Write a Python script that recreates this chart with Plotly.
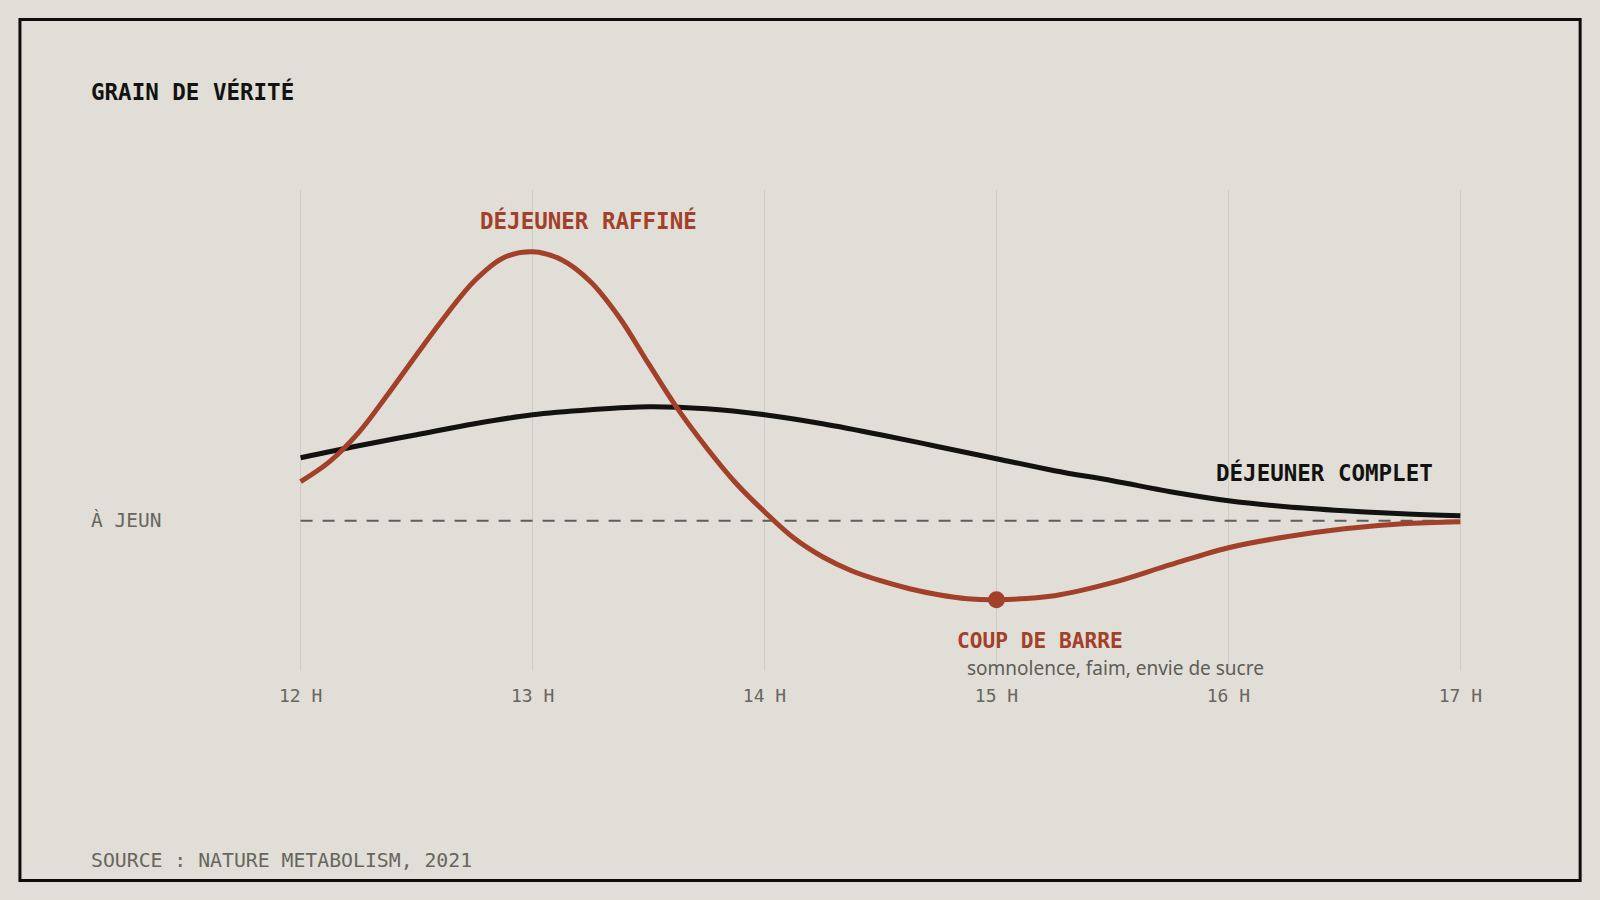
import plotly.graph_objects as go

# ---- data ----
hours_ticks = [12, 13, 14, 15, 16, 17]
tick_labels = ["12 H", "13 H", "14 H", "15 H", "16 H", "17 H"]

red_hours = [12.0, 12.125, 12.25, 12.375, 12.5, 12.625, 12.75, 12.875, 13.0,
             13.125, 13.25, 13.375, 13.5, 13.625, 13.75, 13.875, 14.0,
             14.125, 14.25, 14.375, 14.5, 14.625, 14.75, 14.875, 15.0,
             15.25, 15.5, 15.75, 16.0, 16.25, 16.5, 16.75, 17.0]
red_vals = [0.39, 0.59, 0.88, 1.26, 1.66, 2.05, 2.40, 2.63, 2.69,
            2.61, 2.39, 2.03, 1.57, 1.12, 0.73, 0.38, 0.09,
            -0.17, -0.36, -0.50, -0.60, -0.68, -0.74, -0.78, -0.79,
            -0.75, -0.62, -0.44, -0.27, -0.16, -0.08, -0.03, -0.01]

black_hours = [12.0, 12.25, 12.5, 12.75, 13.0, 13.25, 13.5, 13.75, 14.0,
               14.25, 14.5, 14.75, 15.0, 15.25, 15.5, 15.75, 16.0,
               16.25, 16.5, 16.75, 17.0]
black_vals = [0.63, 0.75, 0.86, 0.97, 1.06, 1.11, 1.14, 1.12, 1.06,
              0.97, 0.86, 0.74, 0.62, 0.50, 0.40, 0.29, 0.20,
              0.14, 0.10, 0.07, 0.05]

fasting_hours = [12, 17]
fasting_vals = [0, 0]

dip_hour = [15.0]
dip_val = [-0.79]

# ---- style ----
BG = "#E0DED6"
RED = "#A3402A"
INK = "#121210"
GRAY = "#68665F"
GRID = "#CFCCC4"
MONO = "DejaVu Sans Mono"
SANS = "Noto Sans"

L, R, T, B = 288.7, 127.7, 190, 229
W, H = 1600, 900
pw = W - L - R
ph = H - T - B


def xp(px):
    return (px - L) / pw


def yp(py):
    return (H - B - py) / ph


fig = go.Figure()

fig.add_trace(go.Scatter(x=fasting_hours, y=fasting_vals, mode="lines",
                         line=dict(color="#5F5E59", width=2, dash="12px,10px"),
                         hoverinfo="skip", showlegend=False))
fig.add_trace(go.Scatter(x=black_hours, y=black_vals, mode="lines",
                         line=dict(color=INK, width=5, shape="spline", smoothing=1),
                         showlegend=False))
fig.add_trace(go.Scatter(x=red_hours, y=red_vals, mode="lines",
                         line=dict(color=RED, width=5, shape="spline", smoothing=1),
                         showlegend=False))
fig.add_trace(go.Scatter(x=dip_hour, y=dip_val, mode="markers",
                         marker=dict(color=RED, size=17), showlegend=False))


def ann(text, px, py, anchor, family, size, color):
    return dict(text=text, xref="paper", yref="paper", x=xp(px), y=yp(py),
                xanchor=anchor, yanchor="middle", showarrow=False,
                font=dict(family=family, size=size, color=color))


annotations = [
    ann("<b>GRAIN DE VÉRITÉ</b>", 88.5, 91.5, "left", MONO, 22.5, INK),
    ann("À JEUN", 89, 520.5, "left", MONO, 19.5, GRAY),
    ann("<b>DÉJEUNER RAFFINÉ</b>", 588, 221, "center", MONO, 22.5, RED),
    ann("<b>DÉJEUNER COMPLET</b>", 1435.5, 472.5, "right", MONO, 22.5, INK),
    ann("<b>COUP DE BARRE</b>", 955, 640.5, "left", MONO, 21.2, RED),
    ann("somnolence, faim, envie de sucre", 965, 668, "left", SANS, 19, "#5E5D58"),
    ann("SOURCE : NATURE METABOLISM, 2021", 89, 860.5, "left", MONO, 19.8, GRAY),
]

shapes = [
    dict(type="rect", xref="paper", yref="paper",
         x0=xp(19.5), x1=xp(1580.5), y0=yp(880.5), y1=yp(19.5),
         line=dict(color="#0D0D0B", width=3), fillcolor="rgba(0,0,0,0)", layer="above"),
]

fig.update_layout(
    width=W, height=H,
    margin=dict(l=L, r=R, t=T, b=B, pad=0),
    paper_bgcolor=BG, plot_bgcolor=BG,
    showlegend=False,
    annotations=annotations,
    shapes=shapes,
    xaxis=dict(range=[11.95, 17.05], tickvals=hours_ticks, ticktext=tick_labels,
               showgrid=True, gridcolor=GRID, gridwidth=1, zeroline=False, showline=False,
               ticks="", ticklabelstandoff=12,
               tickfont=dict(family=MONO, size=18, color=GRAY), fixedrange=True),
    yaxis=dict(range=[-1.503, 3.307], showgrid=False, zeroline=False, showline=False,
               showticklabels=False, ticks="", fixedrange=True),
    hovermode=False,
)

fig.write_html("out.html")
